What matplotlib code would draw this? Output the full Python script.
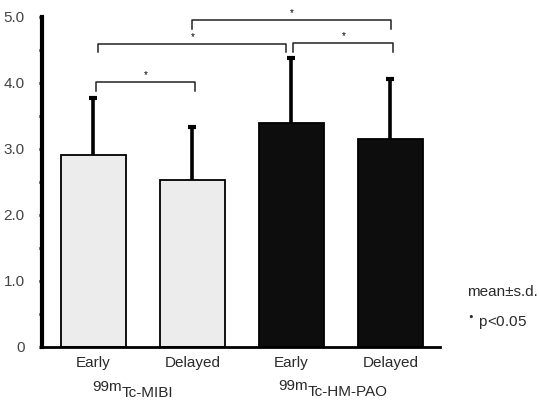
import matplotlib
matplotlib.use("Agg")
import matplotlib.pyplot as plt

plt.rcParams['font.family'] = ['Liberation Sans', 'DejaVu Sans']

conditions = ["Early", "Delayed", "Early", "Delayed"]
groups = ["Tc-MIBI", "Tc-HM-PAO"]
isotope = "99m"
means = [2.91, 2.53, 3.39, 3.14]
sds = [0.86, 0.80, 0.99, 0.92]
bar_colors = ["#ececec", "#ececec", "#0d0d0d", "#0d0d0d"]
yticks = [0, 1.0, 2.0, 3.0, 4.0, 5.0]
ytick_labels = ["0", "1.0", "2.0", "3.0", "4.0", "5.0"]
# significance brackets: (left bar, right bar, y level, drop)
brackets = [(0, 1, 4.01, 0.14), (0, 2, 4.59, 0.13), (2, 3, 4.60, 0.14), (1, 3, 4.95, 0.13)]

W, H = 539, 401
fig = plt.figure(figsize=(W / 100, H / 100), dpi=100)
ax = fig.add_axes([0.078, 0.1354, 0.738, 0.8229])

txt_col = "#2a2a2a"
x = list(range(len(means)))
ax.bar(x, means, width=0.655, color=bar_colors, edgecolor="black", linewidth=1.3, zorder=2)
tops = [m + s for m, s in zip(means, sds)]
ax.vlines(x, means, tops, color="black", lw=2.6, zorder=3)
ax.plot(x, tops, ls="none", marker="_", ms=6, mew=3, color="black", zorder=3)

offs = {(0, 1): (0.03, 0.03), (0, 2): (0.05, -0.05), (2, 3): (0.02, 0.03), (1, 3): (0.0, 0.01)}
for (a, b, y, d) in brackets:
    xa = a + offs[(a, b)][0]
    xb = b + offs[(a, b)][1]
    ax.plot([xa, xa, xb, xb], [y - d, y, y, y - d], color="#222222", lw=1.1, zorder=3)
    ax.text((xa + xb) / 2, y + 0.03, "*", ha="center", va="bottom", fontsize=7)

ax.set_xlim(-0.52, 3.5)
ax.set_ylim(0, 5.0)
ax.set_yticks(yticks)
ax.set_yticklabels(ytick_labels, fontsize=11, color="#444444")
ax.set_yticks([0.5, 1.5, 2.5, 3.5, 4.5], minor=True)
ax.tick_params(axis="y", which="both", direction="out", length=2.5, width=2, pad=10)
ax.set_xticks(x)
ax.set_xticklabels(conditions, fontsize=11, color=txt_col)
ax.tick_params(axis="x", length=0, pad=7)

for s in ["top", "right"]:
    ax.spines[s].set_visible(False)
ax.spines["left"].set_linewidth(3)
ax.spines["bottom"].set_linewidth(2)

# group labels with full-size raised "99m"
for gx, gy, name in [(122, 397, groups[0]), (308, 396, groups[1])]:
    fig.text(gx / W, 1 - gy / H, name, ha="left", va="baseline", fontsize=11, color=txt_col)
    fig.text(gx / W, 1 - (gy - 6) / H, isotope, ha="right", va="baseline", fontsize=11, color=txt_col)

fig.text(467 / W, 1 - 292 / H, "mean±s.d.", ha="left", va="center", fontsize=11, color=txt_col)
fig.text(467 / W, 1 - 323 / H, r"$^{\bullet}$ p<0.05", ha="left", va="center", fontsize=11, color=txt_col)

fig.savefig("out.png", dpi=100)
